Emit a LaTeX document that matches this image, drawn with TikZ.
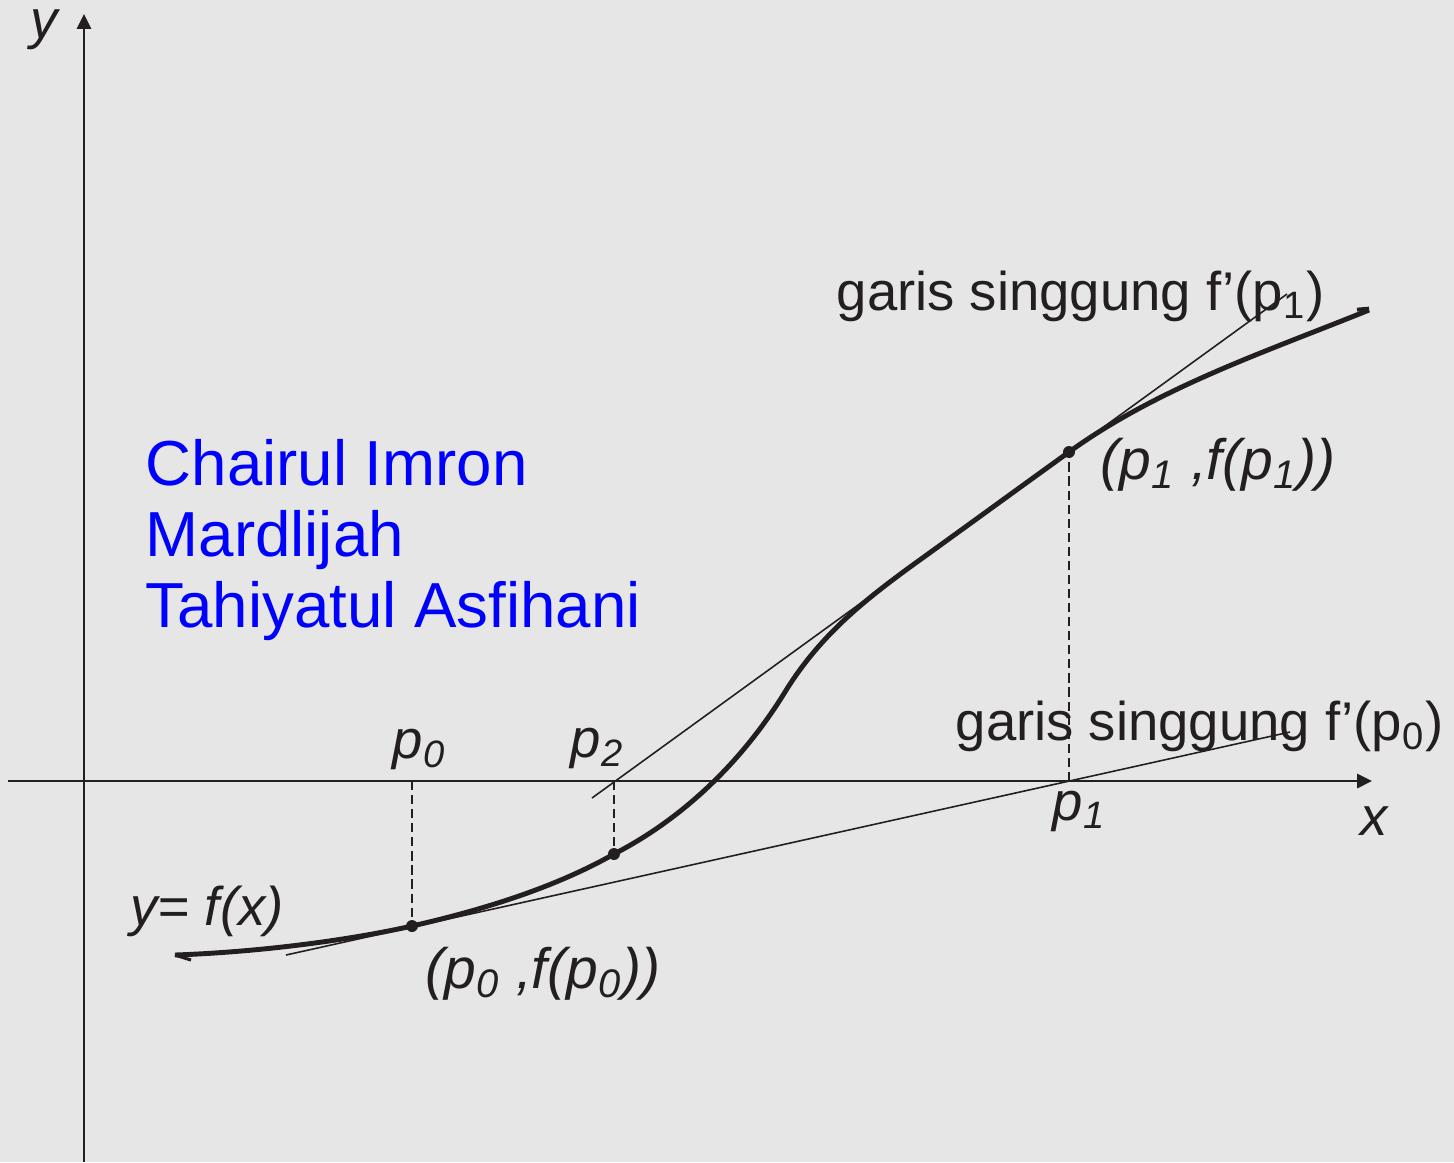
\documentclass[tikz,border=0pt]{standalone}
\usepackage{fontspec}
\setmainfont{Liberation Sans}
\usepackage{tikz}
\usetikzlibrary{
  arrows.meta,
  positioning
}
\definecolor{inkdark}{RGB}{35,31,32}
\definecolor{bggray}{RGB}{230,230,230}
\definecolor{nameblue}{RGB}{0,0,255}
\tikzset{
  axisline/.style={draw=inkdark, line width=0.7pt,
    -{Triangle[length=4.2pt, width=4pt]}},
  fcurve/.style={draw=inkdark, line width=1.4pt},
  tangline/.style={draw=inkdark, line width=0.45pt},
  dropline/.style={draw=inkdark, line width=0.45pt,
    dash pattern=on 2.6pt off 1.4pt},
  dotpt/.style={circle, fill=inkdark, inner sep=0pt, minimum size=3.4pt},
  mlabel/.style={text=inkdark, inner sep=0pt, anchor=base west,
    font=\fontsize{15.5pt}{18pt}\selectfont\itshape},
  tlabel/.style={text=inkdark, inner sep=0pt, anchor=base west,
    font=\fontsize{15.5pt}{18pt}\selectfont},
  namebox/.style={text=nameblue, inner sep=0pt, anchor=base west,
    font=\fontsize{18.1pt}{20pt}\selectfont},
}

\begin{document}
\begin{tikzpicture}[x=0.01cm, y=-0.01cm]
  \useasboundingbox (0,0) rectangle (1454,1162);
  \fill[bggray] (0,0) rectangle (1454,1162);

  % Axes
  \coordinate (xstart) at (8,781);
  \coordinate (xend) at (1372,781);
  \coordinate (ystart) at (84,1162);
  \coordinate (yend) at (84,14);
  \draw[axisline] (xstart) -- (xend);
  \draw[axisline] (ystart) -- (yend);
  \node[mlabel] (xlab) at (1360,835) {x};
  \node[mlabel] (ylab) at (30,38) {y};

  % Curve y = f(x)
  \coordinate (c0) at (175,955);
  \coordinate (pt0) at (412,926);
  \coordinate (pt2) at (614,854);
  \coordinate (c3) at (785,692);
  \coordinate (c4) at (910,567);
  \coordinate (pt1) at (1069,452);
  \coordinate (c5) at (1369,310);
  \draw[fcurve] (c0) .. controls (260,952) and (350,940) .. (pt0)
    .. controls (482,910) and (554,888) .. (pt2)
    .. controls (680,820) and (740,765) .. (c3)
    .. controls (820,635) and (865,600) .. (c4)
    .. controls (960,531) and (1019,488) .. (pt1)
    .. controls (1159,387) and (1268,351) .. (c5);
  \draw[fcurve, line width=0.9pt] (c0) -- ++(16,5);
  \draw[fcurve, line width=1.1pt] ([yshift=0.4pt]c5) -- ++(-12,1);

  % Tangent lines
  \coordinate (t0a) at (286,955);
  \coordinate (t0b) at (1290,732);
  \coordinate (t1a) at (592,798);
  \coordinate (t1b) at (1287,294);
  \draw[tangline] (t0a) -- (t0b);
  \draw[tangline] (t1a) -- (t1b);

  % Points and drop lines
  \node[dotpt] (P0) at (pt0) {};
  \node[dotpt] (P2) at (pt2) {};
  \node[dotpt] (P1) at (pt1) {};
  \coordinate (q0) at (412,781);
  \coordinate (q2) at (614,781);
  \coordinate (q1) at (1069,781);
  \draw[dropline] (q0) -- (P0);
  \draw[dropline] (q2) -- (P2);
  \draw[dropline] (q1) -- (P1);

  % Labels
  \node[mlabel] (p0lab) at (392,758) {p\textsubscript{0}};
  \node[mlabel] (p2lab) at (570,757) {p\textsubscript{2}};
  \node[mlabel] (p1lab) at (1052,820) {p\textsubscript{1}};
  \node[mlabel, font=\fontsize{16.2pt}{18pt}\selectfont\itshape] (P1lab)
    at (1100,479) {(p\textsubscript{1} ,f(p\textsubscript{1}))};
  \node[mlabel, font=\fontsize{16.2pt}{18pt}\selectfont\itshape] (P0lab)
    at (425,988) {(p\textsubscript{0} ,f(p\textsubscript{0}))};
  \node[mlabel] (flab) at (130,925) {y= f(x)};
  \node[tlabel] (tan1lab) at (836,310) {garis singgung f’(p\textsubscript{1})};
  \node[tlabel] (tan0lab) at (955,740) {garis singgung f’(p\textsubscript{0})};

  % Names
  \node[namebox] (name1) at (145,485) {Chairul Imron};
  \node[namebox] (name2) at (145,556) {Mardlijah};
  \node[namebox] (name3) at (145,627) {Tahiyatul Asfihani};
\end{tikzpicture}
\end{document}
